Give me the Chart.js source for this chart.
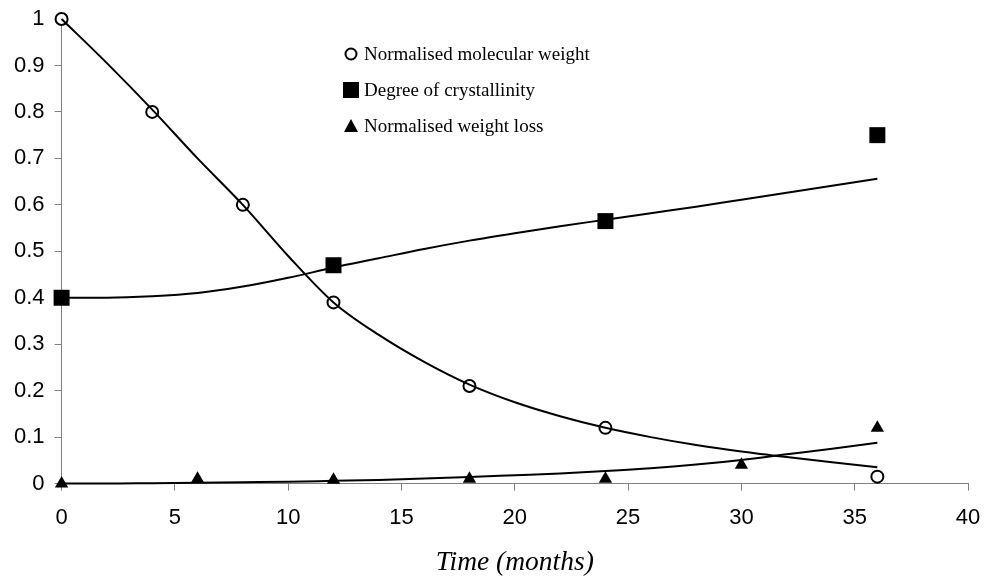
<!DOCTYPE html>
<html><head><meta charset="utf-8">
<script src="https://cdn.jsdelivr.net/npm/chart.js@4/dist/chart.umd.min.js"></script>
<style>html,body{margin:0;padding:0;background:#fff}#wrap{width:987px;height:585px}</style>
</head><body><div id="wrap"><canvas id="c" width="987" height="585"></canvas></div>
<script>
// Measured points
const mwX = [0, 4, 8, 12, 18, 24, 36];
const mwY = [1.0, 0.8, 0.6, 0.39, 0.21, 0.12, 0.015];
const crX = [0, 12, 24, 36];
const crY = [0.40, 0.47, 0.565, 0.75];
const wlX = [0, 6, 12, 18, 24, 30, 36];
const wlY = [0.0, 0.01, 0.008, 0.01, 0.01, 0.04, 0.12];
// Fitted curves
const fitX = [0, 2, 4, 6, 8, 10, 12, 14, 16, 18, 20, 22, 24, 26, 28, 30, 32, 34, 36];
const mwFit = [1.0, 0.905, 0.805, 0.70, 0.60, 0.49, 0.39, 0.32, 0.262, 0.213, 0.175, 0.145, 0.12, 0.10, 0.083, 0.069, 0.057, 0.046, 0.035];
const crFit = [0.40, 0.40, 0.403, 0.41, 0.424, 0.443, 0.465, 0.485, 0.505, 0.523, 0.539, 0.554, 0.568, 0.582, 0.596, 0.611, 0.626, 0.641, 0.656];
const wlFit = [0.0, 0.0, 0.001, 0.002, 0.003, 0.004, 0.006, 0.008, 0.011, 0.014, 0.018, 0.022, 0.027, 0.033, 0.041, 0.051, 0.063, 0.075, 0.088];
const xTicks = [0, 5, 10, 15, 20, 25, 30, 35, 40];
const yTicks = [0, 0.1, 0.2, 0.3, 0.4, 0.5, 0.6, 0.7, 0.8, 0.9, 1];
const labels = ['Normalised molecular weight', 'Degree of crystallinity', 'Normalised weight loss'];

const pts = (xs, ys) => xs.map((x, i) => ({x, y: ys[i]}));
const fitDs = (ys) => ({data: pts(fitX, ys), showLine: true, pointRadius: 0, borderColor: '#000', borderWidth: 2, cubicInterpolationMode: 'monotone', fill: false, clip: false});

const legendPlugin = {
  id: 'customLegend',
  afterDraw(chart) {
    const ctx = chart.ctx;
    const items = [
      {style: 'circle', label: labels[0], y: 54},
      {style: 'rect', label: labels[1], y: 90},
      {style: 'triangle', label: labels[2], y: 126}
    ];
    ctx.save();
    items.forEach(it => {
      const mx = 351;
      ctx.fillStyle = '#000'; ctx.strokeStyle = '#000';
      ctx.beginPath();
      if (it.style === 'circle') {
        ctx.lineWidth = 2;
        ctx.arc(mx, it.y, 5.5, 0, Math.PI * 2);
        ctx.stroke();
      } else if (it.style === 'rect') {
        ctx.rect(mx - 8, it.y - 8, 16, 16);
        ctx.fill();
      } else {
        ctx.moveTo(mx, it.y - 7); ctx.lineTo(mx + 7, it.y + 6); ctx.lineTo(mx - 7, it.y + 6); ctx.closePath();
        ctx.fill();
      }
      ctx.font = '19px "Liberation Serif", "Times New Roman", serif';
      ctx.textBaseline = 'middle';
      ctx.textAlign = 'left';
      ctx.fillText(it.label, 364, it.y + 1);
    });
    ctx.restore();
  }
};

new Chart(document.getElementById('c'), {
  type: 'scatter',
  data: {
    datasets: [
      fitDs(mwFit), fitDs(crFit), fitDs(wlFit),
      {label: labels[0], data: pts(mwX, mwY), pointStyle: 'circle', pointRadius: 6, pointBackgroundColor: '#fff', pointBorderColor: '#000', pointBorderWidth: 2, showLine: false, clip: false},
      {label: labels[1], data: pts(crX, crY), pointStyle: 'rect', pointRadius: 11.3, pointBackgroundColor: '#000', pointBorderColor: '#000', pointBorderWidth: 0, showLine: false, clip: false},
      {label: labels[2], data: pts(wlX, wlY), pointStyle: 'triangle', pointRadius: 7.7, pointBackgroundColor: '#000', pointBorderColor: '#000', pointBorderWidth: 0, showLine: false, clip: false}
    ]
  },
  options: {
    responsive: false,
    animation: false,
    layout: {padding: {top: 19, right: 19, left: 4, bottom: 6}},
    plugins: {legend: {display: false}, tooltip: {enabled: false}},
    scales: {
      x: {
        type: 'linear', min: 0, max: 40,
        afterBuildTicks: (s) => { s.ticks = xTicks.map(v => ({value: v})); },
        afterFit: (s) => { s.paddingRight = 0; },
        grid: {drawOnChartArea: false, drawTicks: true, tickLength: 7, color: '#808080'},
        border: {color: '#808080', width: 1},
        ticks: {color: '#000', font: {family: '"Liberation Sans", Arial', size: 22}, padding: 14, maxRotation: 0},
        title: {display: true, text: 'Time (months)', color: '#000', font: {family: '"Liberation Serif", "Times New Roman", serif', size: 27.5, style: 'italic'}, padding: {top: 1, bottom: 0}}
      },
      y: {
        type: 'linear', min: 0, max: 1,
        afterBuildTicks: (s) => { s.ticks = yTicks.map(v => ({value: v})); },
        afterFit: (s) => { s.paddingTop = 0; },
        grid: {drawOnChartArea: false, drawTicks: true, tickLength: 7, color: '#808080'},
        border: {color: '#808080', width: 1},
        ticks: {color: '#000', font: {family: '"Liberation Sans", Arial', size: 22}, padding: 10, callback: (v) => String(Math.round(v * 10) / 10)}
      }
    }
  },
  plugins: [legendPlugin]
});
</script></body></html>
